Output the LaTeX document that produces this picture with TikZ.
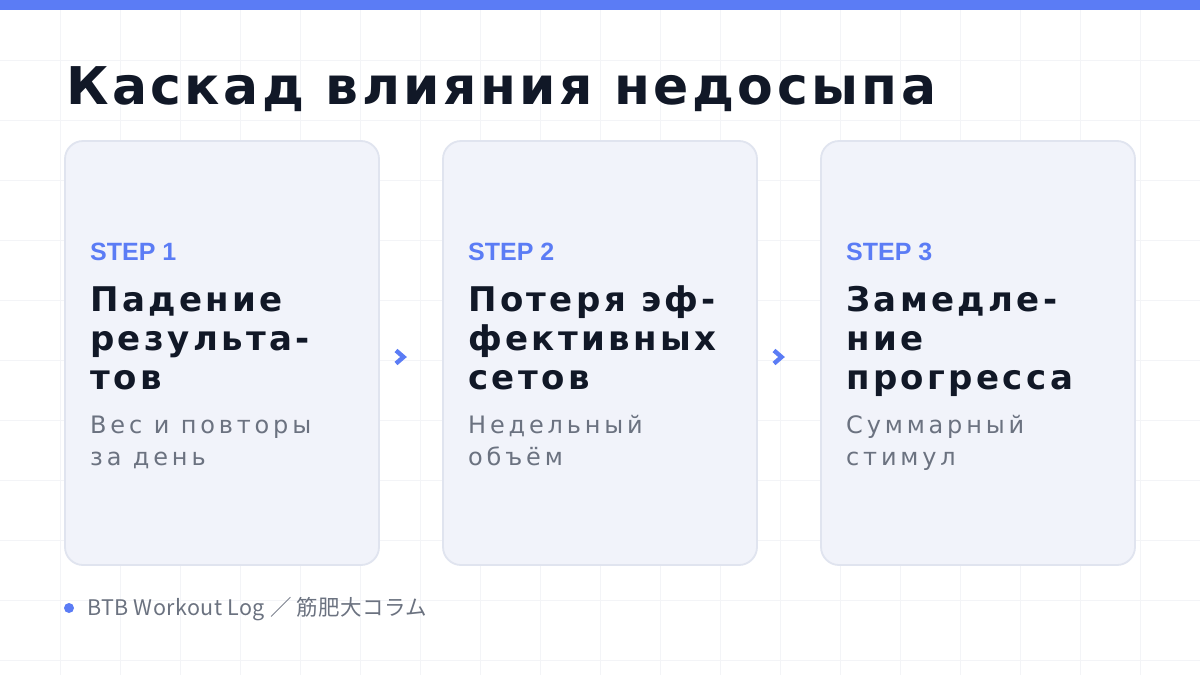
\documentclass[tikz,border=0pt]{standalone}
\usepackage{fontspec}
\setmainfont{DejaVu Sans}
\newfontfamily\titlefont[LetterSpace=6.6]{DejaVu Sans}
\newfontfamily\headfont[LetterSpace=10]{DejaVu Sans}
\newfontfamily\subfont[LetterSpace=16]{DejaVu Sans}
\newfontfamily\stepfont{Liberation Sans}
\newfontfamily\cjk[LetterSpace=2]{Noto Sans CJK JP}
\definecolor{accent}{HTML}{5B7CF5}
\definecolor{ink}{HTML}{111827}
\definecolor{muted}{HTML}{6B7280}
\definecolor{cardfill}{HTML}{F1F3FA}
\definecolor{cardline}{HTML}{E0E4EF}
\definecolor{gridc}{HTML}{F3F4F7}
\tikzset{
  card/.style={draw=cardline, line width=1.8pt, fill=cardfill, rounded corners=18pt},
  steplabel/.style={anchor=base west, inner sep=0pt, text=accent, font=\stepfont\bfseries\fontsize{25}{28}\selectfont},
  headline/.style={anchor=base west, inner sep=0pt, text=ink, font=\headfont\bfseries\fontsize{34}{40}\selectfont},
  subline/.style={anchor=base west, inner sep=0pt, text=muted, font=\subfont\fontsize{24}{32}\selectfont},
  chev/.style={draw=accent, line width=4.4pt, line cap=butt, line join=miter},
}
\begin{document}
\begin{tikzpicture}[x=1pt,y=-1pt]
\useasboundingbox (0,0) rectangle (1200,675);
\fill[white] (0,0) rectangle (1200,675);
% grid
\foreach \gx in {60,120,...,1140} \draw[gridc, line width=0.8pt] (\gx,0) -- (\gx,675);
\foreach \gy in {60,120,...,660} \draw[gridc, line width=0.8pt] (0,\gy) -- (1200,\gy);
% top bar
\fill[accent] (0,0) rectangle (1200,10);
% title
\node[anchor=base west, inner sep=0pt, text=ink, font=\titlefont\bfseries\fontsize{52}{60}\selectfont] (title) at (66,104) {Каскад влияния недосыпа};
% cards
\draw[card] (65,141) rectangle (379,565);
\draw[card] (443,141) rectangle (757,565);
\draw[card] (821,141) rectangle (1135,565);
% card 1
\node[steplabel] (s1) at (90,260) {STEP 1};
\node[headline] (h1a) at (90,311) {Падение};
\node[headline] (h1b) at (90,350) {результа-};
\node[headline] (h1c) at (90,389) {тов};
\node[subline] (d1a) at (90,433) {Вес и повторы};
\node[subline] (d1b) at (90,465) {за день};
% card 2
\node[steplabel] (s2) at (468,260) {STEP 2};
\node[headline] (h2a) at (468,311) {Потеря эф-};
\node[headline] (h2b) at (468,350) {фективных};
\node[headline] (h2c) at (468,389) {сетов};
\node[subline] (d2a) at (468,433) {Недельный};
\node[subline] (d2b) at (468,465) {объём};
% card 3
\node[steplabel] (s3) at (846,260) {STEP 3};
\node[headline] (h3a) at (846,311) {Замедле-};
\node[headline] (h3b) at (846,350) {ние};
\node[headline] (h3c) at (846,389) {прогресса};
\node[subline] (d3a) at (846,433) {Суммарный};
\node[subline] (d3b) at (846,465) {стимул};
% chevrons
\coordinate (c1) at (401,357);
\coordinate (c2) at (779,357);
\draw[chev] ([shift={(-5,-6.5)}]c1) -- ([shift={(2.5,0)}]c1) -- ([shift={(-5,6.5)}]c1);
\draw[chev] ([shift={(-5,-6.5)}]c2) -- ([shift={(2.5,0)}]c2) -- ([shift={(-5,6.5)}]c2);
% footer
\fill[accent] (69,608) circle (5);
\node[anchor=base west, inner sep=0pt, text=muted, font=\cjk\fontsize{21.5}{24}\selectfont] (foot) at (87,615) {BTB Workout Log ／ 筋肥大コラム};
\end{tikzpicture}
\end{document}
